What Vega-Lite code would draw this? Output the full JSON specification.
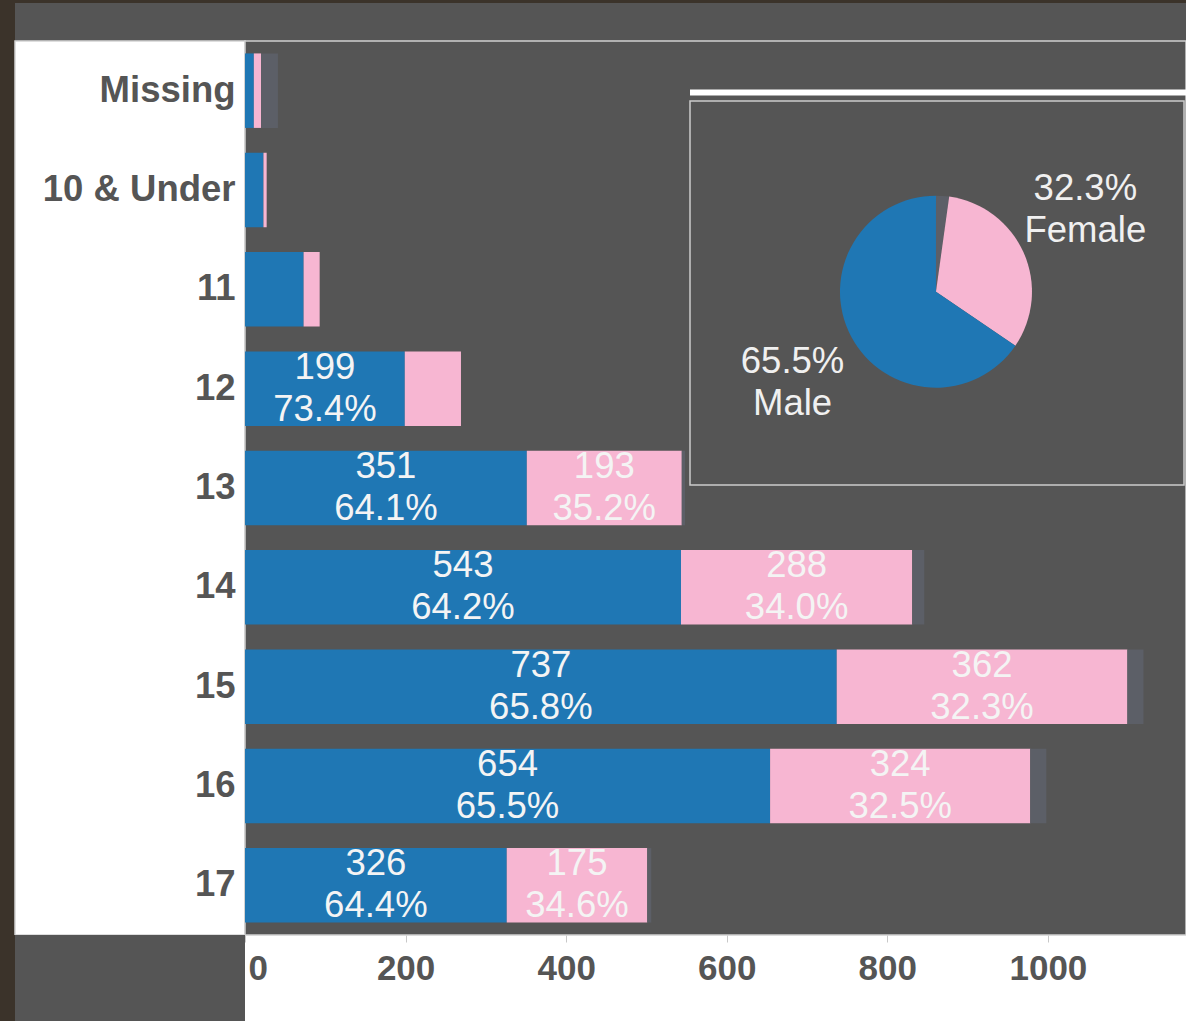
{
  "$schema": "https://vega.github.io/schema/vega-lite/v6.json",
  "background": "#ffffff",
  "padding": 0,
  "config": {"font": "Liberation Sans", "view": {"stroke": null}},
  "columns": 3,
  "spacing": 0,
  "bounds": "flush",
  "align": "each",
  "concat": [
    {"width": 15, "height": 3, "view": {"fill": "#3b332a", "stroke": null}, "data": {"values": [{}]}, "mark": {"type": "text", "text": "", "fontSize": 1}},
    {"width": 230, "height": 3, "view": {"fill": "#3b332a", "stroke": null}, "data": {"values": [{}]}, "mark": {"type": "text", "text": "", "fontSize": 1}},
    {"width": 941, "height": 3, "view": {"fill": "#3b332a", "stroke": null}, "data": {"values": [{}]}, "mark": {"type": "text", "text": "", "fontSize": 1}},
    {"width": 15, "height": 38, "view": {"fill": "#3b332a", "stroke": null}, "data": {"values": [{}]}, "mark": {"type": "text", "text": "", "fontSize": 1}},
    {"width": 230, "height": 38, "view": {"fill": "#555555", "stroke": null}, "data": {"values": [{}]}, "mark": {"type": "text", "text": "", "fontSize": 1}},
    {"width": 941, "height": 38, "view": {"fill": "#555555", "stroke": null}, "data": {"values": [{}]}, "mark": {"type": "text", "text": "", "fontSize": 1}},
    {"width": 15, "height": 894, "view": {"fill": "#3b332a", "stroke": null}, "data": {"values": [{}]}, "mark": {"type": "text", "text": "", "fontSize": 1}},
    {"width": 230, "height": 894, "view": {"fill": "#ffffff", "stroke": "#d4d4d4", "strokeWidth": 1.5}, "data": {"values": [{}]}, "mark": {"type": "text", "text": "", "fontSize": 1}},
    {
      "width": 941,
      "height": 894,
      "view": {"fill": "#555555", "stroke": "#cfcfcf", "strokeWidth": 1.5},
      "resolve": {"scale": {"x": "independent", "y": "independent"}},
      "layer": [
        {
          "data": {"values": [
            {"age": "Missing", "sex": "Male", "count": 11, "ord": 0, "lbl": ""},
            {"age": "Missing", "sex": "Female", "count": 9, "ord": 1, "lbl": ""},
            {"age": "Missing", "sex": "Unknown", "count": 21, "ord": 2, "lbl": ""},
            {"age": "10 & Under", "sex": "Male", "count": 23, "ord": 0, "lbl": ""},
            {"age": "10 & Under", "sex": "Female", "count": 4, "ord": 1, "lbl": ""},
            {"age": "11", "sex": "Male", "count": 73, "ord": 0, "lbl": ""},
            {"age": "11", "sex": "Female", "count": 20, "ord": 1, "lbl": ""},
            {"age": "12", "sex": "Male", "count": 199, "ord": 0, "lbl": "199\n73.4%"},
            {"age": "12", "sex": "Female", "count": 70, "ord": 1, "lbl": ""},
            {"age": "13", "sex": "Male", "count": 351, "ord": 0, "lbl": "351\n64.1%"},
            {"age": "13", "sex": "Female", "count": 193, "ord": 1, "lbl": "193\n35.2%"},
            {"age": "13", "sex": "Unknown", "count": 4, "ord": 2, "lbl": ""},
            {"age": "14", "sex": "Male", "count": 543, "ord": 0, "lbl": "543\n64.2%"},
            {"age": "14", "sex": "Female", "count": 288, "ord": 1, "lbl": "288\n34.0%"},
            {"age": "14", "sex": "Unknown", "count": 15, "ord": 2, "lbl": ""},
            {"age": "15", "sex": "Male", "count": 737, "ord": 0, "lbl": "737\n65.8%"},
            {"age": "15", "sex": "Female", "count": 362, "ord": 1, "lbl": "362\n32.3%"},
            {"age": "15", "sex": "Unknown", "count": 20, "ord": 2, "lbl": ""},
            {"age": "16", "sex": "Male", "count": 654, "ord": 0, "lbl": "654\n65.5%"},
            {"age": "16", "sex": "Female", "count": 324, "ord": 1, "lbl": "324\n32.5%"},
            {"age": "16", "sex": "Unknown", "count": 20, "ord": 2, "lbl": ""},
            {"age": "17", "sex": "Male", "count": 326, "ord": 0, "lbl": "326\n64.4%"},
            {"age": "17", "sex": "Female", "count": 175, "ord": 1, "lbl": "175\n34.6%"},
            {"age": "17", "sex": "Unknown", "count": 5, "ord": 2, "lbl": ""}
          ]},
          "encoding": {
            "y": {
              "field": "age",
              "type": "nominal",
              "sort": ["Missing", "10 & Under", "11", "12", "13", "14", "15", "16", "17"],
              "scale": {"paddingInner": 0.25, "paddingOuter": 0.125},
              "axis": {"title": null, "ticks": false, "domain": false, "grid": false, "labelPadding": 10, "labelFontSize": 36.5, "labelFontWeight": "bold", "labelColor": "#555555", "labelLimit": 400, "labelFont": "Liberation Sans"}
            },
            "order": {"field": "ord", "type": "quantitative"}
          },
          "layer": [
            {
              "mark": {"type": "bar"},
              "encoding": {
                "x": {
                  "field": "count", "type": "quantitative", "stack": "zero",
                  "scale": {"domain": [0, 1172], "nice": false},
                  "axis": {"title": null, "values": [0, 200, 400, 600, 800, 1000], "format": "d", "grid": false, "domain": false, "tickColor": "#c8c8c8", "tickSize": 7, "labelPadding": 9, "labelFontSize": 35, "labelFontWeight": "bold", "labelColor": "#555555", "labelFlush": true, "labelFlushOffset": -3, "labelOverlap": false, "labelFont": "Liberation Sans"}
                },
                "color": {
                  "field": "sex", "type": "nominal",
                  "scale": {"domain": ["Male", "Female", "Unknown"], "range": ["#1f77b4", "#f7b6d2", "#5c5f67"]},
                  "legend": null
                }
              }
            },
            {
              "mark": {"type": "text", "lineBreak": "\n", "fontSize": 36.5, "lineHeight": 42, "color": "#f4f4f4", "baseline": "middle", "align": "center", "dy": -21},
              "encoding": {
                "x": {"field": "count", "type": "quantitative", "stack": "zero", "bandPosition": 0.5},
                "text": {"field": "lbl", "type": "nominal"},
                "detail": {"field": "sex", "type": "nominal"}
              }
            }
          ]
        },
        {
          "data": {"values": [{}]},
          "layer": [
            {
              "mark": {"type": "rect", "fill": "#555555", "stroke": "#cccccc", "strokeWidth": 1.5},
              "encoding": {
                "x": {"datum": 0.4729, "type": "quantitative", "scale": {"domain": [0, 1], "nice": false, "zero": false}, "axis": null},
                "x2": {"datum": 0.9979},
                "y": {"datum": 0.9329, "type": "quantitative", "scale": {"domain": [0, 1], "nice": false, "zero": false}, "axis": null},
                "y2": {"datum": 0.5034}
              }
            },
            {
              "mark": {"type": "rule", "color": "#ffffff", "strokeWidth": 6},
              "encoding": {
                "x": {"datum": 0.4729, "type": "quantitative", "scale": {"domain": [0, 1], "nice": false, "zero": false}, "axis": null},
                "x2": {"datum": 1},
                "y": {"datum": 0.9424, "type": "quantitative", "scale": {"domain": [0, 1], "nice": false, "zero": false}, "axis": null}
              }
            },
            {
              "data": {"values": [
                {"sex": "Unknown", "pct": 2.2, "ord": 0, "lbl": ""},
                {"sex": "Female", "pct": 32.3, "ord": 1, "lbl": "32.3%\nFemale"},
                {"sex": "Male", "pct": 65.5, "ord": 2, "lbl": "65.5%\nMale"}
              ]},
              "encoding": {
                "x": {"datum": 0.7343, "type": "quantitative", "scale": {"domain": [0, 1], "nice": false, "zero": false}, "axis": null},
                "y": {"datum": 0.7196, "type": "quantitative", "scale": {"domain": [0, 1], "nice": false, "zero": false}, "axis": null},
                "theta": {"field": "pct", "type": "quantitative", "stack": true},
                "order": {"field": "ord", "type": "quantitative"},
                "detail": {"field": "sex", "type": "nominal"}
              },
              "layer": [
                {
                  "mark": {"type": "arc", "outerRadius": 96},
                  "encoding": {
                    "color": {
                      "field": "sex", "type": "nominal",
                      "scale": {"domain": ["Male", "Female", "Unknown"], "range": ["#1f77b4", "#f7b6d2", "#5c5f67"]},
                      "legend": null
                    }
                  }
                },
                {
                  "mark": {"type": "text", "radius": 170, "thetaOffset": -0.08, "lineBreak": "\n", "fontSize": 36.5, "lineHeight": 42, "color": "#f0f0f0", "baseline": "middle", "align": "center", "dy": -21},
                  "encoding": {"text": {"field": "lbl", "type": "nominal"}}
                }
              ]
            }
          ]
        }
      ]
    },
    {"width": 15, "height": 86, "view": {"fill": "#3b332a", "stroke": null}, "data": {"values": [{}]}, "mark": {"type": "text", "text": "", "fontSize": 1}},
    {"width": 230, "height": 86, "view": {"fill": "#555555", "stroke": null}, "data": {"values": [{}]}, "mark": {"type": "text", "text": "", "fontSize": 1}}
  ]
}
